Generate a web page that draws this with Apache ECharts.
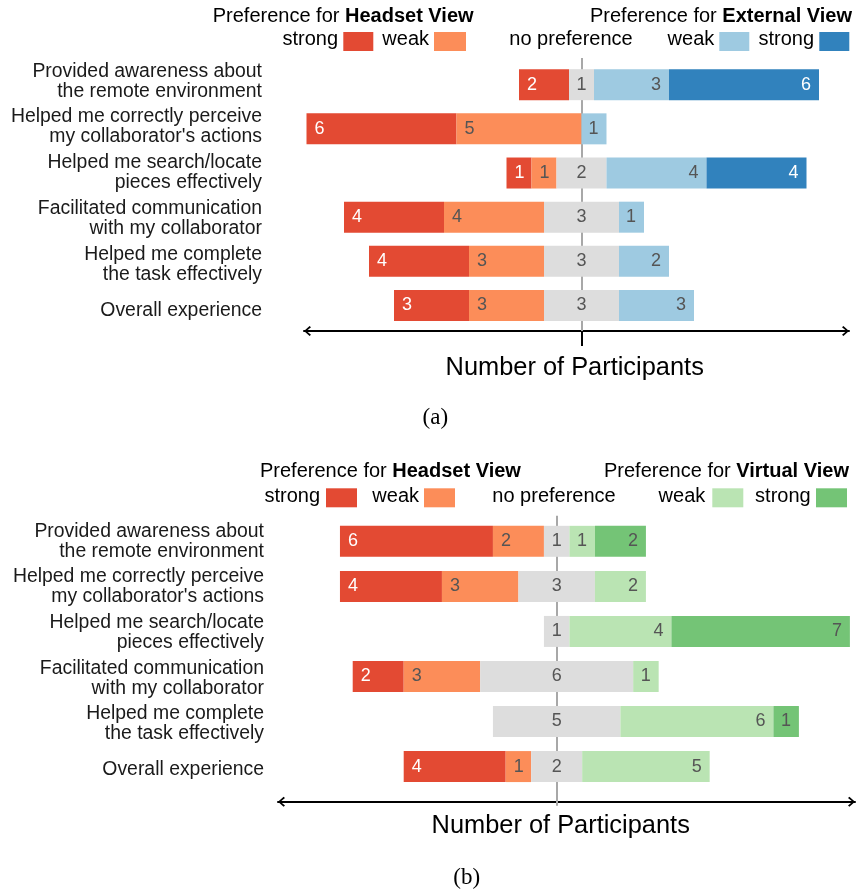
<!DOCTYPE html>
<html>
<head>
<meta charset="utf-8">
<title>Preference ratings</title>
<script src="https://cdn.jsdelivr.net/npm/echarts@6/dist/echarts.min.js"></script>
<style>
  html, body { margin: 0; padding: 0; background: #fff; }
  #chart { width: 858px; height: 892px; }
</style>
</head>
<body>
<div id="chart"></div>
<script>
// questionnaire items (same rows in both panels)
const questions = [
  'Provided awareness about\nthe remote environment',
  "Helped me correctly perceive\nmy collaborator's actions",
  'Helped me search/locate\npieces effectively',
  'Facilitated communication\nwith my collaborator',
  'Helped me complete\nthe task effectively',
  'Overall experience'
]

// (a) headset view vs external view, number of participants
const aHeadsetStrong = [2, 6, 1, 4, 4, 3]
const aHeadsetWeak = [0, 5, 1, 4, 3, 3]
const aNoPref = [1, 0, 2, 3, 3, 3]
const aExternalWeak = [3, 1, 4, 1, 2, 3]
const aExternalStrong = [6, 0, 4, 0, 0, 0]

// (b) headset view vs virtual view
const bHeadsetStrong = [6, 4, 0, 2, 0, 4]
const bHeadsetWeak = [2, 3, 0, 3, 0, 1]
const bNoPref = [1, 3, 1, 6, 5, 2]
const bVirtualWeak = [1, 2, 4, 1, 6, 5]
const bVirtualStrong = [2, 0, 7, 0, 1, 0]

const FONT = '"Liberation Sans", Arial, sans-serif'
const RED = '#e34a33'
const ORANGE = '#fc8d59'
const GREY = '#dddddd'
const LBLUE = '#9ecae1'
const BLUE = '#3182bd'
const LGREEN = '#bae4b3'
const GREEN = '#74c476'

// value where the middle of "no preference" sits, and axis length (participants)
const CENTER_A = 11.1
const MAX_A = 21.8
const CENTER_B = 10.93
const MAX_B = 22.63

// open chevron, pointing up (echarts rotates it along the axis)
const ARROW = 'path://M50,0 L100,56 L88,70 L50,24 L12,70 L0,56 Z'

// invisible spacer so that every row is centred on "no preference"
function spacer(strong, weak, neutral, center) {
	return strong.map((s, i) => +(center - s - weak[i] - neutral[i] / 2).toFixed(3))
}

function bar(name, data, color, stack, xi, yi, side, labelColor) {
	let label = {
		show: true,
		fontFamily: FONT,
		fontSize: 18,
		color: labelColor,
		formatter: (p) => (p.value ? p.value : ''),
	}
	if (side == 'left') {
		label.position = 'insideLeft'
		label.distance = 8
	} else if (side == 'right') {
		label.position = 'insideRight'
		label.distance = 8
	} else {
		label.position = 'inside'
	}
	return {
		name: name,
		type: 'bar',
		stack: stack,
		xAxisIndex: xi,
		yAxisIndex: yi,
		barWidth: 31,
		data: data,
		itemStyle: { color: color },
		label: label,
		emphasis: { disabled: true },
	}
}

function base(data, stack, xi, yi) {
	return {
		type: 'bar',
		stack: stack,
		xAxisIndex: xi,
		yAxisIndex: yi,
		barWidth: 31,
		data: data,
		silent: true,
		itemStyle: { color: 'transparent' },
		label: { show: false },
		emphasis: { disabled: true },
	}
}

function mainAxis(grid, max, center, offset, tickLen, tickColor, gap, shift) {
	return {
		gridIndex: grid,
		type: 'value',
		position: 'bottom',
		min: 0,
		max: max,
		offset: offset,
		splitLine: { show: false },
		axisLabel: { show: false },
		axisLine: {
			show: true,
			symbol: [ARROW, ARROW],
			symbolSize: [10, 7],
			symbolOffset: [3.5, -3.5],
			lineStyle: { color: '#000', width: 2 },
		},
		axisTick: {
			show: true,
			customValues: [center],
			length: tickLen,
			lineStyle: { color: tickColor, width: 2 },
		},
		name: 'Number of Participants',
		nameLocation: 'middle',
		nameGap: gap,
		nameTextStyle: {
			fontFamily: FONT,
			fontSize: 25.4,
			color: '#000',
			padding: [0, shift, 0, 0],
		},
	}
}

// only draws the grey centre line, behind the bars
function centreAxis(grid, max, center, offset, len) {
	return {
		gridIndex: grid,
		type: 'value',
		position: 'bottom',
		min: 0,
		max: max,
		offset: offset,
		splitLine: { show: false },
		axisLabel: { show: false },
		axisLine: { show: false },
		axisTick: {
			show: true,
			inside: true,
			customValues: [center],
			length: len,
			lineStyle: { color: '#a8a8a8', width: 2 },
		},
	}
}

function catAxis(grid, margin, showLabel) {
	return {
		gridIndex: grid,
		type: 'category',
		inverse: true,
		data: questions,
		axisLine: { show: false },
		axisTick: { show: false },
		axisLabel: {
			show: showLabel,
			margin: margin,
			fontFamily: FONT,
			fontSize: 19.4,
			lineHeight: 20,
			color: '#1a1a1a',
			align: 'right',
		},
	}
}

function txt(x, y, text, align, size) {
	return {
		type: 'text',
		x: x,
		y: y,
		style: {
			text: text,
			font: (size || 20) + 'px ' + FONT,
			fill: '#000',
			align: align,
			textAlign: align,
			verticalAlign: 'middle',
			textVerticalAlign: 'middle',
		},
	}
}

function head(x, y, plain, bold) {
	return {
		type: 'text',
		x: x,
		y: y,
		style: {
			text: '{n|' + plain + '}{b|' + bold + '}',
			rich: {
				n: { fontFamily: FONT, fontSize: 20, fill: '#000' },
				b: { fontFamily: FONT, fontSize: 20, fontWeight: 'bold', fill: '#000' },
			},
			align: 'left',
			textAlign: 'left',
			verticalAlign: 'middle',
			textVerticalAlign: 'middle',
		},
	}
}

function box(x, y, w, h, color) {
	return { type: 'rect', shape: { x: x, y: y, width: w, height: h }, style: { fill: color } }
}

function caption(x, y, text) {
	return {
		type: 'text',
		x: x,
		y: y,
		style: {
			text: text,
			font: '23px "Liberation Serif", "Times New Roman", serif',
			fill: '#000',
			align: 'center',
			textAlign: 'center',
			verticalAlign: 'middle',
			textVerticalAlign: 'middle',
		},
	}
}

const option = {
	animation: false,
	grid: [
		// bars
		{ left: 304, right: 9, top: 62.6, bottom: 564.4 },
		{ left: 278, right: 3, top: 518.8, bottom: 102.9 },
		// question labels (spaced a little wider than the bars in the figure)
		{ left: 304, right: 9, top: 58.3, bottom: 558.9 },
		{ left: 278, right: 3, top: 518.5, bottom: 99.7 },
	],
	xAxis: [
		mainAxis(0, MAX_A, CENTER_A, 3.4, 15, '#000', 24, 3.6),
		centreAxis(0, MAX_A, CENTER_A, 3.4, 273),
		mainAxis(1, MAX_B, CENTER_B, 12.6, 4, '#a8a8a8', 12, 11.6),
		centreAxis(1, MAX_B, CENTER_B, 12.6, 286),
		{ gridIndex: 2, type: 'value', show: false },
		{ gridIndex: 3, type: 'value', show: false },
	],
	yAxis: [
		catAxis(0, 42, false),
		catAxis(1, 14, false),
		catAxis(2, 42, true),
		catAxis(3, 14, true),
	],
	series: [
		base(spacer(aHeadsetStrong, aHeadsetWeak, aNoPref, CENTER_A), 'a', 0, 0),
		bar('Headset strong', aHeadsetStrong, RED, 'a', 0, 0, 'left', '#fff'),
		bar('Headset weak', aHeadsetWeak, ORANGE, 'a', 0, 0, 'left', '#555'),
		bar('No preference', aNoPref, GREY, 'a', 0, 0, 'mid', '#555'),
		bar('External weak', aExternalWeak, LBLUE, 'a', 0, 0, 'right', '#555'),
		bar('External strong', aExternalStrong, BLUE, 'a', 0, 0, 'right', '#fff'),

		base(spacer(bHeadsetStrong, bHeadsetWeak, bNoPref, CENTER_B), 'b', 2, 1),
		bar('Headset strong', bHeadsetStrong, RED, 'b', 2, 1, 'left', '#fff'),
		bar('Headset weak', bHeadsetWeak, ORANGE, 'b', 2, 1, 'left', '#555'),
		bar('No preference', bNoPref, GREY, 'b', 2, 1, 'mid', '#555'),
		bar('Virtual weak', bVirtualWeak, LGREEN, 'b', 2, 1, 'right', '#555'),
		bar('Virtual strong', bVirtualStrong, GREEN, 'b', 2, 1, 'right', '#555'),
	],
	graphic: [
		// legend (a)
		head(212.7, 16.3, 'Preference for ', 'Headset View'),
		txt(338, 39.7, 'strong', 'right'),
		box(343.3, 32, 30, 19, RED),
		txt(429, 39.7, 'weak', 'right'),
		box(434, 32, 32, 19, ORANGE),
		txt(509.3, 39, 'no preference', 'left'),
		head(590, 16.3, 'Preference for ', 'External View'),
		txt(714.3, 39.7, 'weak', 'right'),
		box(719.3, 32, 30, 19, LBLUE),
		txt(814, 39.7, 'strong', 'right'),
		box(819.3, 32, 30, 19, BLUE),
		caption(435.3, 418, '(a)'),

		// legend (b)
		head(260, 471, 'Preference for ', 'Headset View'),
		txt(320, 496, 'strong', 'right'),
		box(326, 488.3, 31, 19, RED),
		txt(419, 496, 'weak', 'right'),
		box(424, 488.3, 31, 19, ORANGE),
		txt(492.3, 496, 'no preference', 'left'),
		head(604, 471, 'Preference for ', 'Virtual View'),
		txt(705.3, 496, 'weak', 'right'),
		box(712.3, 488.3, 31, 19, LGREEN),
		txt(810.7, 496, 'strong', 'right'),
		box(816, 488.3, 31, 19, GREEN),
		caption(466.7, 878, '(b)'),
	],
}

const chart = echarts.init(document.getElementById('chart'), null, { renderer: 'canvas' })
chart.setOption(option)
window.addEventListener('resize', chart.resize)
</script>
</body>
</html>
